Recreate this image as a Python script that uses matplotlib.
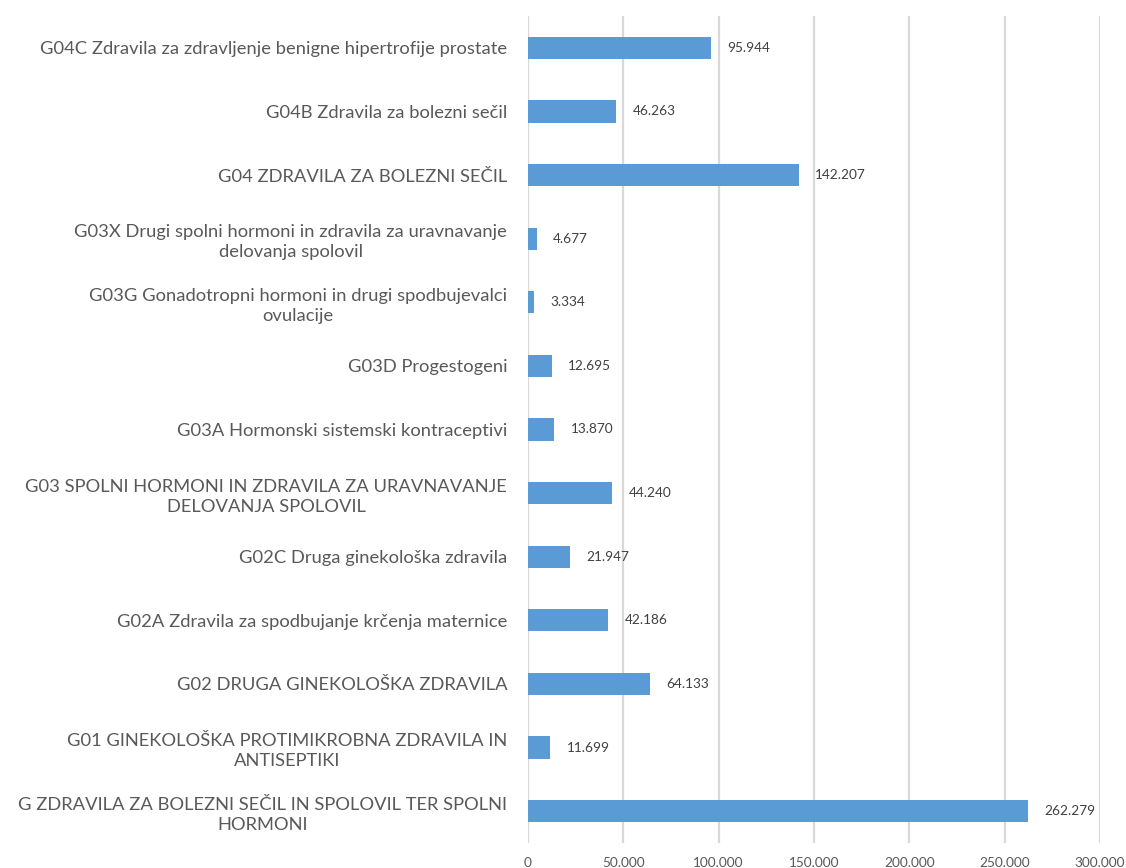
import matplotlib
matplotlib.use("Agg")
import matplotlib.pyplot as plt
from matplotlib.ticker import FuncFormatter

plt.rcParams['font.family'] = ['Lato', 'DejaVu Sans']

#%% DATA (top to bottom as shown)

categories = [
    "G04C Zdravila za zdravljenje benigne hipertrofije prostate",
    "G04B Zdravila za bolezni sečil",
    "G04 ZDRAVILA ZA BOLEZNI SEČIL",
    "G03X Drugi spolni hormoni in zdravila za uravnavanje\ndelovanja spolovil",
    "G03G Gonadotropni hormoni in drugi spodbujevalci\novulacije",
    "G03D Progestogeni",
    "G03A Hormonski sistemski kontraceptivi",
    "G03 SPOLNI HORMONI IN ZDRAVILA ZA URAVNAVANJE\nDELOVANJA SPOLOVIL",
    "G02C Druga ginekološka zdravila",
    "G02A Zdravila za spodbujanje krčenja maternice",
    "G02 DRUGA GINEKOLOŠKA ZDRAVILA",
    "G01 GINEKOLOŠKA PROTIMIKROBNA ZDRAVILA IN\nANTISEPTIKI",
    "G ZDRAVILA ZA BOLEZNI SEČIL IN SPOLOVIL TER SPOLNI\nHORMONI",
]
values = [95944, 46263, 142207, 4677, 3334, 12695, 13870, 44240,
          21947, 42186, 64133, 11699, 262279]
xticks = [0, 50000, 100000, 150000, 200000, 250000, 300000]


def dotfmt(v):
    return "{:,.0f}".format(v).replace(",", ".")


#%% PLOT

fig = plt.figure(figsize=(11.26, 8.68), dpi=100)
ax = fig.add_axes([0.4689, 0.0288, 0.5080, 0.9528])

pos = list(range(len(categories)))[::-1]
ax.barh(pos, values, height=0.35, color="#5b9bd5", zorder=3)

for p, v in zip(pos, values):
    ax.text(v + 8500, p, dotfmt(v), va="center", ha="left",
            fontsize=9.8, color="#404040")

ax.set_xlim(0, 300000)
ax.set_ylim(-0.5, len(categories) - 0.5)
ax.set_xticks(xticks)
ax.xaxis.set_major_formatter(FuncFormatter(lambda x, _: dotfmt(x)))
ax.set_yticks(pos)
ax.set_yticklabels(categories, multialignment="center", linespacing=1.3)

ax.grid(axis="x", color="#d9d9d9", linewidth=1.6, zorder=0)
for s in ax.spines.values():
    s.set_visible(False)
ax.tick_params(axis="y", length=0, pad=15, labelsize=13.2, labelcolor="#595959")
ax.tick_params(axis="x", length=0, pad=10, labelsize=9.8, labelcolor="#595959")

fig.savefig("out.png", dpi=100)
